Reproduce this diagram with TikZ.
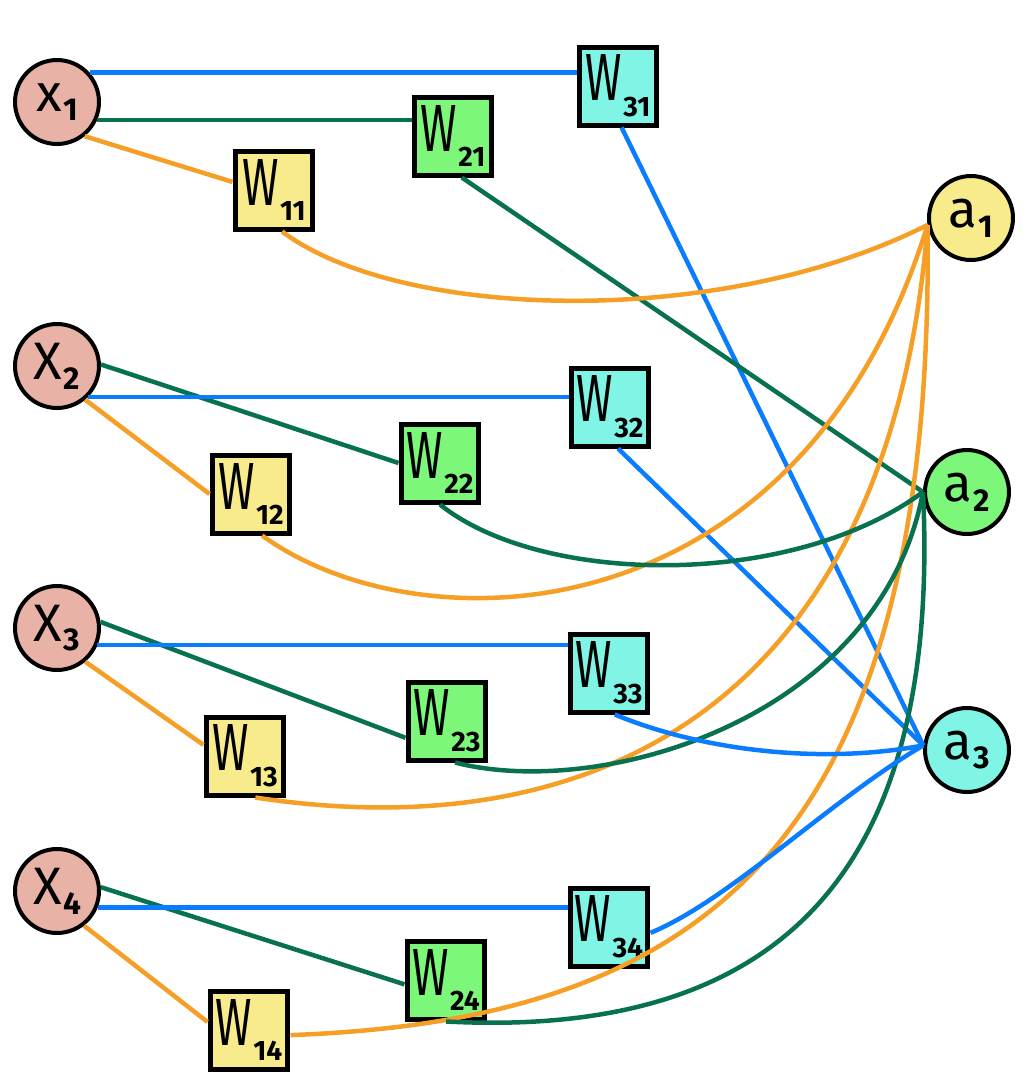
\documentclass[tikz,border=0pt]{standalone}
\usepackage{fontspec}
\setmainfont{Fira Sans}
\definecolor{inpc}{HTML}{E8B2A6}
\definecolor{yelc}{HTML}{F7EB8C}
\definecolor{grnc}{HTML}{7DF77A}
\definecolor{cyac}{HTML}{80F5E6}
\definecolor{lblue}{HTML}{0A7CFF}
\definecolor{lgreen}{HTML}{08714F}
\definecolor{lorange}{HTML}{F59F26}
\newcommand\nlab[2]{\fontsize{30}{30}\selectfont #1\kern0.03em\raisebox{-0.35ex}{\fontsize{18}{18}\selectfont\bfseries #2}}
\newcommand\wlab[1]{\fontsize{38}{38}\selectfont\scalebox{0.66}[1]{W}\kern0.02em\raisebox{-0.45ex}{\fontsize{16}{16}\selectfont\bfseries #1}}
\begin{document}
\begin{tikzpicture}[x=0.02cm,y=-0.02cm,
  neu/.style={circle,draw=black,line width=0.8mm,minimum size=1.68cm,inner sep=0pt},
  wbox/.style={rectangle,draw=black,line width=1mm,minimum size=1.56cm,inner sep=0pt},
  eb/.style={draw=lblue,line width=0.9mm},
  eg/.style={draw=lgreen,line width=0.9mm},
  eo/.style={draw=lorange,line width=0.9mm}]
\useasboundingbox (0,0) rectangle (1031,1090);
% inputs
\node[neu,fill=inpc] (x1) at (57,102) {\nlab{x}{1}};
\node[neu,fill=inpc] (x2) at (57,366) {\nlab{X}{2}};
\node[neu,fill=inpc] (x3) at (57,628) {\nlab{X}{3}};
\node[neu,fill=inpc] (x4) at (57,891) {\nlab{X}{4}};
% outputs
\node[neu,fill=yelc] (a1) at (971,218) {\nlab{a}{1}};
\node[neu,fill=grnc] (a2) at (967,492) {\nlab{a}{2}};
\node[neu,fill=cyac] (a3) at (967,750) {\nlab{a}{3}};
% weights
\node[wbox,fill=yelc] (w11) at (274,190) {\wlab{11}};
\node[wbox,fill=grnc] (w21) at (453,136) {\wlab{21}};
\node[wbox,fill=cyac] (w31) at (618,86) {\wlab{31}};
\node[wbox,fill=yelc] (w12) at (251,494) {\wlab{12}};
\node[wbox,fill=grnc] (w22) at (440,463) {\wlab{22}};
\node[wbox,fill=cyac] (w32) at (610,407) {\wlab{32}};
\node[wbox,fill=yelc] (w13) at (245,756) {\wlab{13}};
\node[wbox,fill=grnc] (w23) at (447,721) {\wlab{23}};
\node[wbox,fill=cyac] (w33) at (609,673) {\wlab{33}};
\node[wbox,fill=yelc] (w14) at (249,1030) {\wlab{14}};
\node[wbox,fill=grnc] (w24) at (446,980) {\wlab{24}};
\node[wbox,fill=cyac] (w34) at (609,927) {\wlab{34}};
% input -> weight
\draw[eb] (x1.42) -- (x1.42 -| w31.west);
\draw[eg] (x1.-24) -- (x1.-24 -| w21.west);
\draw[eo] (x1.-51) -- (w11.169);
\draw[eg] (x2.2) -- (w22.west);
\draw[eb] (x2.-45) -- (x2.-45 -| w32.west);
\draw[eo] (x2.-50) -- (w12.west);
\draw[eg] (x3.8) -- (w23.202);
\draw[eb] (x3.-23) -- (x3.-23 -| w33.west);
\draw[eo] (x3.-50) -- (w13.165);
\draw[eg] (x4.5) -- (w24.186);
\draw[eb] (x4.-22) -- (x4.-22 -| w34.west);
\draw[eo] (x4.-52) -- (w14.169);
% weight -> output
\draw[eb] (w31.-85) -- (a3.174);
\draw[eg] (w21.-78) -- (a2.west);
\draw[eb] (w32.-79) -- (a3.174);
\draw[eo] (w11.-79) .. controls (400,320) and (720,330) .. (a1.189);
\draw[eo] (w12.-75) .. controls (420,650) and (800,640) .. (a1.189);
\draw[eo] (w13.-76) .. controls (600,850) and (890,700) .. (a1.189);
\draw[eo] (w14.-7) .. controls (700,1020) and (935,850) .. (a1.189);
\draw[eg] (w22.south) .. controls (540,585) and (790,590) .. (a2.west);
\draw[eg] (w23.-79) .. controls (600,800) and (880,720) .. (a2.west);
\draw[eg] (w24.south) .. controls (800,1040) and (940,850) .. (a2.west);
\draw[eb] (w33.-82) .. controls (700,750) and (820,765) .. (a3.174);
\draw[eb] (w34.-8) .. controls (730,900) and (830,800) .. (a3.174);
\end{tikzpicture}
\end{document}
